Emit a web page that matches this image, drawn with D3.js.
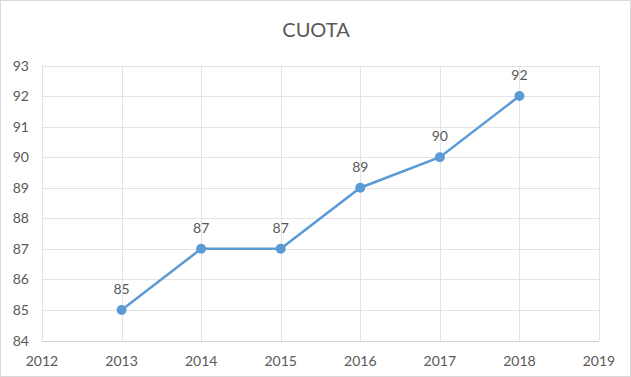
<!DOCTYPE html>
<html><head><meta charset="utf-8">
<script src="https://cdn.jsdelivr.net/npm/d3@7"></script>
<style>body{margin:0;background:#fff;}svg{display:block;font-family:Lato,"Open Sans",sans-serif;}</style>
</head><body>
<svg id="c" width="631" height="377"></svg>
<script>
const title = "CUOTA";
const years = [2013, 2014, 2015, 2016, 2017, 2018];
const values = [85, 87, 87, 89, 90, 92];
const xTicks = [2012, 2013, 2014, 2015, 2016, 2017, 2018, 2019];
const yTicks = [84, 85, 86, 87, 88, 89, 90, 91, 92, 93];

const svg = d3.select("#c");
svg.append("rect").attr("x",0.5).attr("y",0.5).attr("width",630).attr("height",376)
  .attr("fill","#fff").attr("stroke","#d9d9d9");

const x = d3.scaleLinear().domain([2012, 2019]).range([42, 599]);
const y = d3.scaleLinear().domain([84, 93]).range([340.5, 65.5]);

svg.append("text").attr("x",316).attr("y",37).attr("text-anchor","middle")
  .attr("font-size",20).attr("fill","#595959").text(title);

const g = svg.append("g");
g.selectAll("line.h").data(yTicks).join("line")
  .attr("x1",x(2012)).attr("x2",x(2019))
  .attr("y1",d=>Math.round(y(d))+0.5).attr("y2",d=>Math.round(y(d))+0.5)
  .attr("stroke",d=>d===84?"#d0d0d0":"#e3e3e3").attr("stroke-width",1);
g.selectAll("line.v").data(xTicks).join("line")
  .attr("y1",y(84)).attr("y2",y(93))
  .attr("x1",d=>Math.round(x(d))+0.5).attr("x2",d=>Math.round(x(d))+0.5)
  .attr("stroke","#e3e3e3").attr("stroke-width",1);

svg.selectAll("text.yt").data(yTicks).join("text")
  .attr("x",29).attr("y",d=>y(d)+5).attr("text-anchor","end")
  .attr("font-size",14).attr("fill","#595959").text(d=>d);
svg.selectAll("text.xt").data(xTicks).join("text")
  .attr("x",d=>x(d)).attr("y",366).attr("text-anchor","middle")
  .attr("font-size",14).attr("fill","#595959").text(d=>d);

const data = years.map((yr,i)=>({yr, v: values[i]}));
svg.append("path").datum(data)
  .attr("d", d3.line().x(d=>x(d.yr)).y(d=>y(d.v)))
  .attr("fill","none").attr("stroke","#5b9bd5").attr("stroke-width",2.5);
svg.selectAll("circle.p").data(data).join("circle")
  .attr("cx",d=>x(d.yr)).attr("cy",d=>y(d.v)).attr("r",5)
  .attr("fill","#5b9bd5");
svg.selectAll("text.dl").data(data).join("text")
  .attr("x",d=>x(d.yr)).attr("y",d=>y(d.v)-16).attr("text-anchor","middle")
  .attr("font-size",14).attr("fill","#595959").text(d=>d.v);
</script>
</body></html>
